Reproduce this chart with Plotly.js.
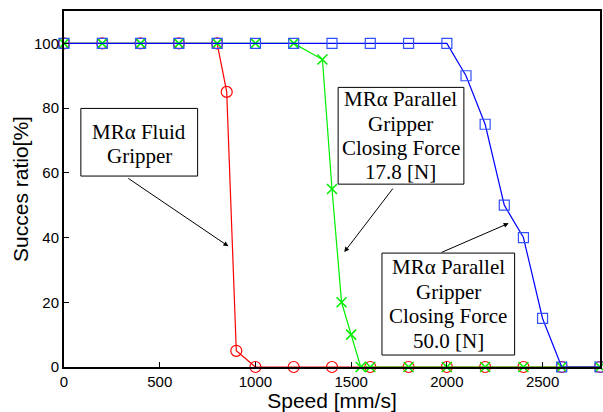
<!DOCTYPE html>
<html><head><meta charset="utf-8">
<script src="https://cdn.plot.ly/plotly-3.0.1.min.js"></script>
<style>html,body{margin:0;padding:0;background:#fff;}#chart{width:603px;height:412px;}</style>
</head><body><div id="chart"></div>
<script>
const speedFluid = [0,200,400,600,800,850,900,1000,1200,1400,1600,1800,2000,2200,2400,2600,2800];
const ratioFluid = [100,100,100,100,100,85,5,0,0,0,0,0,0,0,0,0,0];
const speedP178 = [0,200,400,600,800,1000,1200,1350,1400,1450,1500,1550,1600,1800,2000,2200,2400,2600,2800];
const ratioP178 = [100,100,100,100,100,100,100,95,55,20,10,0,0,0,0,0,0,0,0];
const speedP500 = [0,200,400,600,800,1000,1200,1400,1600,1800,2000,2100,2200,2300,2400,2500,2600,2800];
const ratioP500 = [100,100,100,100,100,100,100,100,100,100,100,90,75,50,40,15,0,0];
const xTicks = [0,500,1000,1500,2000,2500];
const yTicks = [0,20,40,60,80,100];
const labelFluid = ["MRα Fluid","Gripper"];
const label178 = ["MRα Parallel","Gripper","Closing Force","17.8 [N]"];
const label500 = ["MRα Parallel","Gripper","Closing Force","50.0 [N]"];

const serif = {family:"Liberation Serif, Times New Roman, serif", size:21, color:"#000"};
const traces = [
  {x:speedFluid, y:ratioFluid, mode:"lines+markers", line:{color:"#ff0000", width:1.2},
   marker:{symbol:"circle-open", size:11, color:"#ff0000", line:{width:1.2}}, cliponaxis:false},
  {x:speedP178, y:ratioP178, mode:"lines+markers", line:{color:"#00ee00", width:1.2},
   marker:{symbol:"x-thin-open", size:10, color:"#00ee00", line:{width:1.5, color:"#00ee00"}}, cliponaxis:false},
  {x:speedP500, y:ratioP500, mode:"lines+markers", line:{color:"#0000ff", width:1.2},
   marker:{symbol:"square-open", size:10, color:"#3050ff", line:{width:1.2}}, cliponaxis:false}
];

function boxLines(lines, cx, y0, step){
  return lines.map((t,i)=>({x:cx, y:y0 - i*step, xref:"x", yref:"y", text:t, showarrow:false,
    font:serif, xanchor:"center", yanchor:"middle"}));
}
function arrow(tx,ty,hx,hy){
  return {x:hx, y:hy, ax:tx, ay:ty, xref:"x", yref:"y", axref:"x", ayref:"y", text:"",
    showarrow:true, arrowhead:2, arrowsize:1, arrowwidth:1, arrowcolor:"#000"};
}
const annotations = [
  ...boxLines(labelFluid, 393, 72.6, 7.5),
  ...boxLines(label178, 1760, 82.7, 7.5),
  ...boxLines(label500, 2008, 30.9, 7.6),
  arrow(328,58.6,859,37.3),
  arrow(1724,55.6,1464,35.5),
  arrow(1964,35.2,2323,44.4)
];
const rect = (x0,x1,y0,y1)=>({type:"rect", xref:"x", yref:"y", x0:x0, x1:x1, y0:y0, y1:y1,
  line:{color:"#000", width:1}, fillcolor:"#fff", layer:"above"});
const shapes = [rect(88,698,59.0,79.9), rect(1432,2089,56.5,86.4), rect(1661,2354,3.7,35.2)];

const layout = {
  width:603, height:412, margin:{l:64, r:3, t:11, b:45},
  paper_bgcolor:"#fff", plot_bgcolor:"#fff", showlegend:false,
  font:{family:"Liberation Sans, Arial, sans-serif", size:15, color:"#000"},
  xaxis:{range:[0,2800], tickvals:xTicks, ticks:"inside", ticklen:5, tickcolor:"#000",
    showline:true, linecolor:"#000", linewidth:2, mirror:true, showgrid:false, zeroline:false,
    title:{text:"Speed [mm/s]", font:{size:21}, standoff:3}, tickfont:{size:15}, automargin:false},
  yaxis:{range:[0,110], tickvals:yTicks, ticks:"inside", ticklen:5, tickcolor:"#000",
    showline:true, linecolor:"#000", linewidth:2, mirror:true, showgrid:false, zeroline:false,
    title:{text:"Succes ratio[%]", font:{size:21}, standoff:0}, tickfont:{size:15}, automargin:false},
  annotations: annotations, shapes: shapes
};
Plotly.newPlot("chart", traces, layout, {displayModeBar:false, staticPlot:true});
</script></body></html>
